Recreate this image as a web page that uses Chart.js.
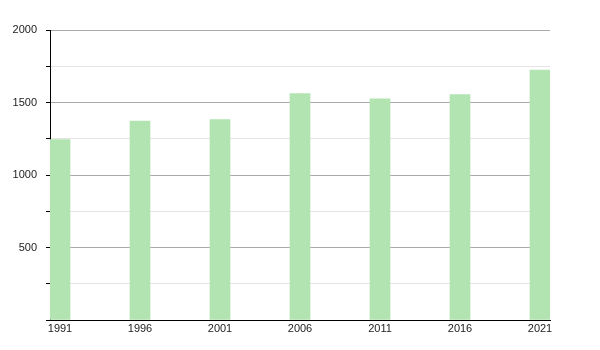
<!DOCTYPE html>
<html>
<head>
  <title>Population</title>
  <style>
    body { margin: 0; background: #fff; }
    #wrap { width: 600px; height: 350px; }
  </style>
</head>
<body>
  <div id="wrap">
    <canvas id="canvas"></canvas>
  </div>
  <script src="https://cdn.jsdelivr.net/npm/chart.js"></script>
  <script>
    var years = [1991, 1996, 2001, 2006, 2011, 2016, 2021];
    var population = [1245, 1372, 1382, 1562, 1525, 1555, 1724];
    var yLabels = [500, 1000, 1500, 2000];

    var points = years.map(function(y, i) { return {x: y, y: population[i]}; });

    var config = {
      type: 'bar',
      data: {
        datasets: [{
          data: points,
          backgroundColor: '#b1e4b1',
          borderWidth: 0,
          barThickness: 20
        }]
      },
      options: {
        responsive: true,
        maintainAspectRatio: false,
        animation: false,
        layout: { padding: { top: 30, right: 50, left: 0, bottom: 0 } },
        plugins: { legend: { display: false }, tooltip: { enabled: false } },
        scales: {
          x: {
            type: 'linear',
            min: 1990.375,
            max: 2021.625,
            offset: false,
            afterBuildTicks: function(scale) {
              scale.ticks = years.map(function(v) { return {value: v}; });
            },
            afterFit: function(scale) { scale.height = 30; },
            grid: { display: false, drawTicks: false },
            border: { display: true, color: '#000', width: 1 },
            ticks: {
              autoSkip: false,
              maxRotation: 0,
              padding: 2,
              color: '#222',
              font: { family: 'Liberation Sans', size: 11 },
              callback: function(v) { return String(v); }
            }
          },
          y: {
            min: 0,
            max: 2000,
            afterFit: function(scale) { scale.width = 50; },
            border: { display: true, color: '#000', width: 1 },
            grid: {
              color: function(ctx) {
                if (!ctx.tick) return '#e2e2e2';
                return ctx.tick.value % 500 === 0 ? '#aaaaaa' : '#e4e4e4';
              },
              tickColor: '#000',
              tickLength: 4
            },
            ticks: {
              stepSize: 250,
              padding: 9,
              color: '#222',
              font: { family: 'Liberation Sans', size: 11 },
              callback: function(v) { return yLabels.indexOf(v) >= 0 ? String(v) : ''; }
            }
          }
        }
      }
    };

    window.onload = function() {
      var ctx = document.getElementById('canvas').getContext('2d');
      window.myBar = new Chart(ctx, config);
    };
  </script>
</body>
</html>
